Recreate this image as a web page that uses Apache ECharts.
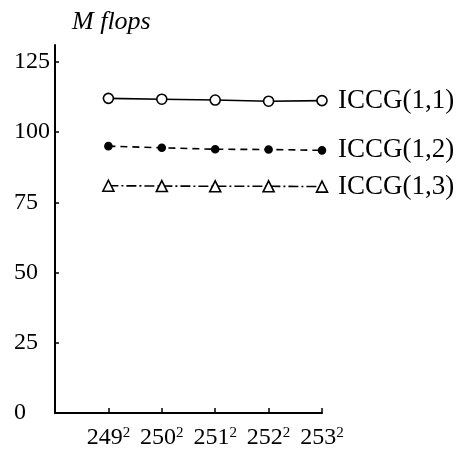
<!DOCTYPE html>
<html>
<head>
<meta charset="utf-8">
<script src="https://cdn.jsdelivr.net/npm/echarts@6/dist/echarts.min.js"></script>
<style>
  html, body { margin: 0; padding: 0; background: #fff; }
  #chart { width: 467px; height: 450px; }
</style>
</head>
<body>
<div id="chart"></div>
<script>
// problem sizes (n^2), plotted at n
var sizes = [249, 250, 251, 252, 253]
var yTicks = [0, 25, 50, 75, 100, 125]

var names = ['ICCG(1,1)', 'ICCG(1,2)', 'ICCG(1,3)']
var iccg11 = [112.0, 111.7, 111.4, 111.0, 111.2]
var iccg12 = [95.0, 94.4, 93.9, 93.8, 93.5]
var iccg13 = [80.9, 80.8, 80.7, 80.7, 80.6]

var serif = '"Liberation Serif", "DejaVu Serif", serif'

function pairs(vals) {
    var out = []
    for (var i = 0; i < sizes.length; ++i) {
        out.push([sizes[i], vals[i]])
    }
    return out
}

function makeSeries(name, vals, symbol, size, filled, dash) {
    return {
        name: name,
        type: 'line',
        data: pairs(vals),
        symbol: symbol,
        symbolSize: size,
        showAllSymbol: true,
        lineStyle: { color: '#000', width: 1.6, type: dash },
        itemStyle: { color: filled ? '#000' : '#fff', borderColor: '#000', borderWidth: 1.6 },
        endLabel: {
            show: true,
            formatter: name,
            distance: 16,
            color: '#000',
            fontFamily: serif,
            fontSize: 27
        },
        emphasis: { disabled: true },
        animation: false
    }
}

var chart = echarts.init(document.getElementById('chart'))
chart.setOption({
    backgroundColor: '#fff',
    title: {
        text: 'M flops',
        left: 67,
        top: 4,
        textStyle: { fontFamily: serif, fontStyle: 'italic', fontWeight: 'normal', fontSize: 26, color: '#000' }
    },
    grid: { left: 55, right: 145, top: 45, bottom: 37 },
    xAxis: {
        type: 'value',
        min: 248,
        max: 253,
        interval: 1,
        axisLine: { lineStyle: { color: '#000', width: 2 } },
        axisTick: { inside: true, length: 5, customValues: sizes, lineStyle: { color: '#000', width: 1.5 } },
        axisLabel: {
            customValues: sizes,
            formatter: function (v) { return v + '{sup|2}' },
            margin: 13,
            color: '#000',
            fontFamily: serif,
            fontSize: 24,
            rich: {
                sup: { fontSize: 15, fontFamily: serif, color: '#000', verticalAlign: 'top', lineHeight: 24 }
            }
        },
        splitLine: { show: false }
    },
    yAxis: {
        type: 'value',
        min: 0,
        max: 131,
        axisLine: { show: true, lineStyle: { color: '#000', width: 2 } },
        axisTick: { show: true, inside: true, length: 4, customValues: yTicks, lineStyle: { color: '#000', width: 1.5 } },
        axisLabel: {
            customValues: yTicks,
            align: 'left',
            margin: 41,
            color: '#000',
            fontFamily: serif,
            fontSize: 24
        },
        splitLine: { show: false }
    },
    series: [
        makeSeries(names[0], iccg11, 'circle', 10, false, 'solid'),
        makeSeries(names[1], iccg12, 'circle', 7, true, [7, 5]),
        makeSeries(names[2], iccg13, 'triangle', 11, false, [10, 3, 2, 3])
    ]
})
</script>
</body>
</html>
